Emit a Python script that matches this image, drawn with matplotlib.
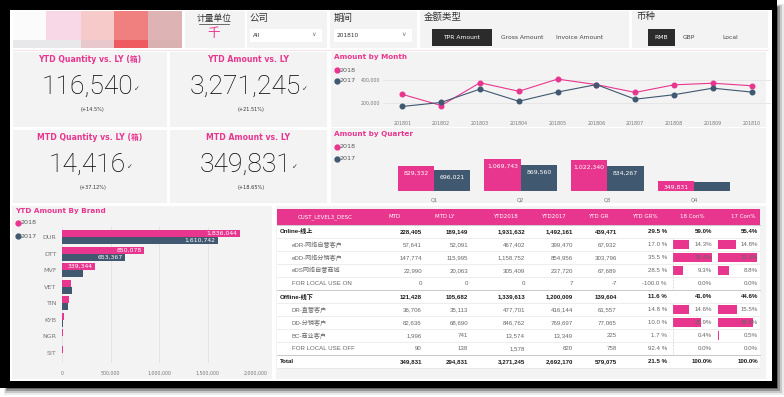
import matplotlib
matplotlib.use('Agg')
import matplotlib.pyplot as plt
from matplotlib.patches import Rectangle
import numpy as np

plt.rcParams['font.family'] = ['DejaVu Sans', 'Noto Sans CJK SC']

W, H = 784, 397
PINK = '#E8368F'
SLATE = '#405870'
PANEL = '#f3f3f3'
CJK = ['Liberation Sans', 'Noto Sans CJK SC']

# ---- data ----
months = ['201801', '201802', '201803', '201804', '201805',
          '201806', '201807', '201808', '201809', '201810']
amt_2018 = [275000, 178000, 376000, 302000, 408000, 360000, 292000, 358000, 372000, 350000]
amt_2017 = [170000, 205000, 321000, 215000, 295000, 360000, 233000, 272000, 329000, 295000]

quarters = ['Q1', 'Q2', 'Q3', 'Q4']
q_2018 = [829332, 1069743, 1022340, 349831]
q_2017 = [696021, 869560, 834267, 294831]

brands = ['DUR', 'DTT', 'MVF', 'VET', 'TIN', 'KYB', 'NGR', 'SIT']
brand_2018 = [1836044, 850078, 339344, 94000, 73000, 17000, 7000, 7000]
brand_2017 = [1610742, 653367, 220000, 100000, 59000, 7000, 4000, 4000]

kpi_titles = ['YTD Quantity vs. LY (箱)', 'YTD Amount vs. LY',
              'MTD Quantity vs. LY (箱)', 'MTD Amount vs. LY']
kpi_values = ['116,540', '3,271,245', '14,416', '349,831']
kpi_changes = ['(+14.5%)', '(+21.51%)', '(+37.12%)', '(+18.65%)']

table_cols = ['CUST_LEVEL3_DESC', 'MTD', 'MTD LY', 'YTD2018', 'YTD2017',
              'YTD GR', 'YTD GR%', '18 Con%', '17 Con%']
row_names = ['Online-线上', 'eDR-网络自营客户', 'eDD-网络分销客户', 'eDS网络自营商城',
             'FOR LOCAL USE ON', 'Offline-线下', 'DR-直营客户', 'DD-分销客户',
             'BC-商业客户', 'FOR LOCAL USE OFF', 'Total']
row_bold = [True, False, False, False, False, True, False, False, False, False, True]
mtd = [228405, 57641, 147774, 22990, 0, 121428, 36706, 82636, 1996, 90, 349831]
mtd_ly = [189149, 52091, 115995, 20063, 0, 105682, 35113, 68690, 741, 138, 294831]
ytd_2018 = [1931632, 467402, 1158752, 305409, 0, 1339613, 477701, 846762, 13574, 1578, 3271245]
ytd_2017 = [1492161, 399470, 854956, 237720, 7, 1200009, 416144, 769697, 13349, 820, 2692170]
ytd_gr = [439471, 67932, 303796, 67689, -7, 139604, 61557, 77065, 225, 758, 579075]
ytd_gr_pct = [29.5, 17.0, 35.5, 28.5, -100.0, 11.6, 14.8, 10.0, 1.7, 92.4, 21.5]
con_18 = [59.0, 14.3, 35.4, 9.3, 0.0, 41.0, 14.6, 25.9, 0.4, 0.0, 100.0]
con_17 = [55.4, 14.8, 31.8, 8.8, 0.0, 44.6, 15.5, 28.6, 0.5, 0.0, 100.0]

fig = plt.figure(figsize=(W / 100, H / 100), dpi=100)
bg = fig.add_axes([0, 0, 1, 1])
bg.set_xlim(0, W)
bg.set_ylim(H, 0)
bg.axis('off')


def rect(x0, y0, x1, y1, color, **kw):
    bg.add_patch(Rectangle((x0, y0), x1 - x0, y1 - y0, facecolor=color,
                           edgecolor='none', **kw))


def add_ax(x0, y0, x1, y1):
    ax = fig.add_axes([x0 / W, 1 - y1 / H, (x1 - x0) / W, (y1 - y0) / H])
    ax.patch.set_visible(False)
    for s in ax.spines.values():
        s.set_visible(False)
    return ax


def legend_dots(x, y1, y2):
    bg.plot(x, y1, 'o', color=PINK, ms=3.5)
    bg.text(x + 3, y1, '2018', fontsize=4.6, color='#555', va='center')
    bg.plot(x, y2, 'o', color=SLATE, ms=3.5)
    bg.text(x + 3, y2, '2017', fontsize=4.6, color='#555', va='center')


# frame + shadow
for i, a in enumerate([0.08, 0.15, 0.25, 0.35]):
    d = 7 - i * 2
    rect(4 + i, 4 + i, 777 + d, 388 + d, '#000000', alpha=a)
rect(0, 0, 777, 388, '#000000')
rect(10, 10, 772, 381, 'white')

# ---- header ----
sw_top = ['#fbfbfb', '#f8d8e6', '#f7caca', '#f08080', '#ddb3b3']
sw_bot = ['#e8e8ea', '#e8e8ea', '#e8c8cc', '#ef5a60', '#d9b1b1']
edges = [13, 46, 81, 114, 148, 182]
for i in range(5):
    rect(edges[i], 11, edges[i + 1], 40, sw_top[i])
    rect(edges[i], 40, edges[i + 1], 48, sw_bot[i])
bg.plot([13, 768], [50, 50], color='#f2dfe4', lw=0.6)

for x0, x1 in [(185, 245), (247, 327), (330, 417), (420, 629), (632, 768)]:
    rect(x0, 11, x1, 48, PANEL)
bg.text(214, 19, '计量单位', fontsize=6.3, color='#333', ha='center', va='center')
bg.plot([199, 229], [24, 24], color='#333', lw=0.5)
bg.text(214, 33, '千', fontsize=9, color=PINK, ha='center', va='center')

for lx, label, bx0, bx1, val in [(250, '公司', 250, 322, 'All'),
                                  (334, '期间', 334, 412, '201810')]:
    bg.text(lx, 18, label, fontsize=6.8, color='#333', va='center')
    rect(bx0, 29, bx1, 42, 'white')
    bg.text(bx0 + 3, 35.5, val, fontsize=4.2, color='#333', va='center')
    bg.text(bx1 - 8, 35, '∨', fontsize=4.5, color='#777', va='center', ha='center')

bg.text(424, 17, '金额类型', fontsize=6.8, color='#333', va='center')
rect(432, 29, 492, 46, '#2b2b2b')
bg.text(462, 37.5, 'TPR Amount', fontsize=4.3, color='white', ha='center', va='center')
bg.text(522, 37.5, 'Gross Amount', fontsize=4.3, color='#444', ha='center', va='center')
bg.text(580, 37.5, 'Invoice Amount', fontsize=4.3, color='#444', ha='center', va='center')

bg.text(636, 17, '币种', fontsize=6.8, color='#333', va='center')
rect(648, 29, 675, 46, '#2b2b2b')
bg.text(661.5, 37.5, 'RMB', fontsize=4.3, color='white', ha='center', va='center')
bg.text(689, 37.5, 'GBP', fontsize=4.3, color='#444', ha='center', va='center')
bg.text(730, 37.5, 'Local', fontsize=4.3, color='#444', ha='center', va='center')

# ---- KPI cards ----
cards = [(13, 52, 167, 127), (170, 52, 327, 127), (13, 130, 167, 203), (170, 130, 327, 203)]
for (x0, y0, x1, y1), t, v, c in zip(cards, kpi_titles, kpi_values, kpi_changes):
    rect(x0, y0, x1, y1, PANEL)
    cx = (x0 + x1) / 2
    bg.text(cx, y0 + 7, t, fontsize=5.6, color=PINK, fontweight='bold',
            ha='center', va='center')
    tv = bg.text(cx - 3, y0 + 42, v, fontsize=19, color='#000000', family='Roboto',
                 fontweight='light', ha='center', va='baseline')
    bg.text(cx + 3, y0 + 58, c, fontsize=3.6, color='#333', ha='center', va='center')
    # check mark right after the number, at mid height
    fig.canvas.draw()
    bb = tv.get_window_extent()
    bg.annotate('✓', xy=(bb.x1 + 1, bb.y0 + bb.height * 0.42), xycoords='figure pixels',
                fontsize=5, color='#333', va='center')

# ---- Amount by Month ----
rect(331, 52, 766, 127, PANEL)
bg.text(334, 57, 'Amount by Month', fontsize=5.2, color=PINK, fontweight='bold', va='center')
legend_dots(337, 70, 81)
ax_m = add_ax(383, 68.5, 771, 114.5)
ax_m.plot(range(len(months)), amt_2018, color=PINK, lw=0.8, marker='o', ms=3.3, zorder=3)
ax_m.plot(range(len(months)), amt_2017, color=SLATE, lw=0.8, marker='o', ms=3.3, zorder=3)
ax_m.set_xlim(-0.5, 9.5)
ax_m.set_ylim(100000, 500000)
ax_m.set_yticks([200000, 400000])
ax_m.set_yticklabels(['200,000', '400,000'])
ax_m.set_xticks(range(len(months)))
ax_m.set_xticklabels(months)
ax_m.grid(axis='y', color='#e4e4e4', lw=0.6)
ax_m.set_axisbelow(True)
ax_m.tick_params(length=0, labelsize=3.4, labelcolor='#777')
ax_m.tick_params(axis='x', pad=4.5)
ax_m.tick_params(axis='y', pad=2)

# ---- Amount by Quarter ----
rect(331, 128, 766, 203, PANEL)
bg.text(334, 134, 'Amount by Quarter', fontsize=5.2, color=PINK, fontweight='bold', va='center')
legend_dots(337, 147, 159)
ax_q = add_ax(390.7, 150, 737.3, 191)
xq = np.arange(len(quarters))
ax_q.bar(xq - 0.21, q_2018, width=0.42, color=PINK)
ax_q.bar(xq + 0.21, q_2017, width=0.42, color=SLATE)
ax_q.set_xlim(-0.5, 3.5)
ax_q.set_ylim(0, 1.37e6)
ax_q.set_yticks([])
ax_q.set_xticks(xq)
ax_q.set_xticklabels(quarters)
ax_q.tick_params(length=0, labelsize=3.8, labelcolor='#777', pad=4.5)
for xs, vals in [(xq - 0.21, q_2018), (xq + 0.21, q_2017)]:
    for x, v in zip(xs, vals):
        if v > 300000:
            ax_q.annotate(f'{v:,}', (x, v), xytext=(0, -5), textcoords='offset points',
                          ha='center', va='center', fontsize=4.4, color='white')

# ---- YTD Amount By Brand ----
rect(12, 206, 272, 379, PANEL)
bg.text(15, 211, 'YTD Amount By Brand', fontsize=5.2, color=PINK, fontweight='bold', va='center')
legend_dots(18, 223, 236)
ax_b = add_ax(62, 227.3, 256, 362.6)
yb = np.arange(len(brands))
ax_b.barh(yb - 0.21, brand_2018, height=0.42, color=PINK)
ax_b.barh(yb + 0.21, brand_2017, height=0.42, color=SLATE)
ax_b.set_xlim(0, 2000000)
ax_b.set_ylim(7.6, -0.6)
ax_b.set_yticks(yb)
ax_b.set_yticklabels(brands)
ax_b.set_xticks([0, 500000, 1000000, 1500000, 2000000])
ax_b.set_xticklabels(['0', '500,000', '1,000,000', '1,500,000', '2,000,000'])
ax_b.grid(axis='x', color='#e2e2e2', lw=0.6)
ax_b.set_axisbelow(True)
ax_b.tick_params(length=0, labelcolor='#777')
ax_b.tick_params(axis='x', labelsize=3.4, pad=6)
ax_b.tick_params(axis='y', labelsize=4.6, pad=4)
for ys, vals in [(yb - 0.21, brand_2018), (yb + 0.21, brand_2017)]:
    for y, v in zip(ys, vals):
        if v > 300000:
            ax_b.annotate(f'{v:,}', (v, y), xytext=(-2, 0), textcoords='offset points',
                          ha='right', va='center', fontsize=4.4, color='white')

# ---- table ----
rect(276, 206, 766, 379, PANEL)
rect(277, 209, 760, 225, PINK)
head_x = [325, 395, 445, 505, 553, 598, 645, 692, 743]
for hx, hc in zip(head_x, table_cols):
    bg.text(hx, 217, hc, fontsize=4.0, color='white', ha='center', va='center')

row_h = 13
top = 225
rect(277, top, 760, top + row_h * len(row_names), 'white')
right_x = [422, 468, 525, 573, 617, 667, 712, 758]
for i, name in enumerate(row_names):
    y0 = top + i * row_h
    yc = y0 + row_h / 2
    bold = row_bold[i]
    col = '#1a1a1a' if bold else '#666'
    fw = 'bold' if bold else 'normal'
    bg.plot([277, 760], [y0 + row_h, y0 + row_h], color='#e6e6e6', lw=0.5)
    if bold:
        bg.plot([277, 760], [y0, y0], color='#bbbbbb', lw=0.5)
    bg.text(280 if bold else 292, yc, name, fontsize=4.4, color=col, fontweight=fw,
            family=CJK, va='center')
    if not bold:
        bar18 = con_18[i] * 1.1
        bar17 = con_17[i] * 1.22
        if bar18 > 0.2:
            rect(673, y0 + 2, 673 + bar18, y0 + row_h - 2, PINK)
        if bar17 > 0.2:
            rect(718, y0 + 2, 718 + bar17, y0 + row_h - 2, PINK)
        bg.plot([673, 673], [y0 + 1, y0 + row_h - 1], color='#999', lw=0.4, ls=':')
    vals = [f'{mtd[i]:,}', f'{mtd_ly[i]:,}', f'{ytd_2018[i]:,}', f'{ytd_2017[i]:,}',
            f'{ytd_gr[i]:,}', f'{ytd_gr_pct[i]:.1f} %', f'{con_18[i]:.1f}%', f'{con_17[i]:.1f}%']
    for rx, v in zip(right_x, vals):
        bg.text(rx, yc, v, fontsize=4.4, color=col, fontweight=fw, family=CJK,
                ha='right', va='center')

fig.savefig('out.png', dpi=100)
